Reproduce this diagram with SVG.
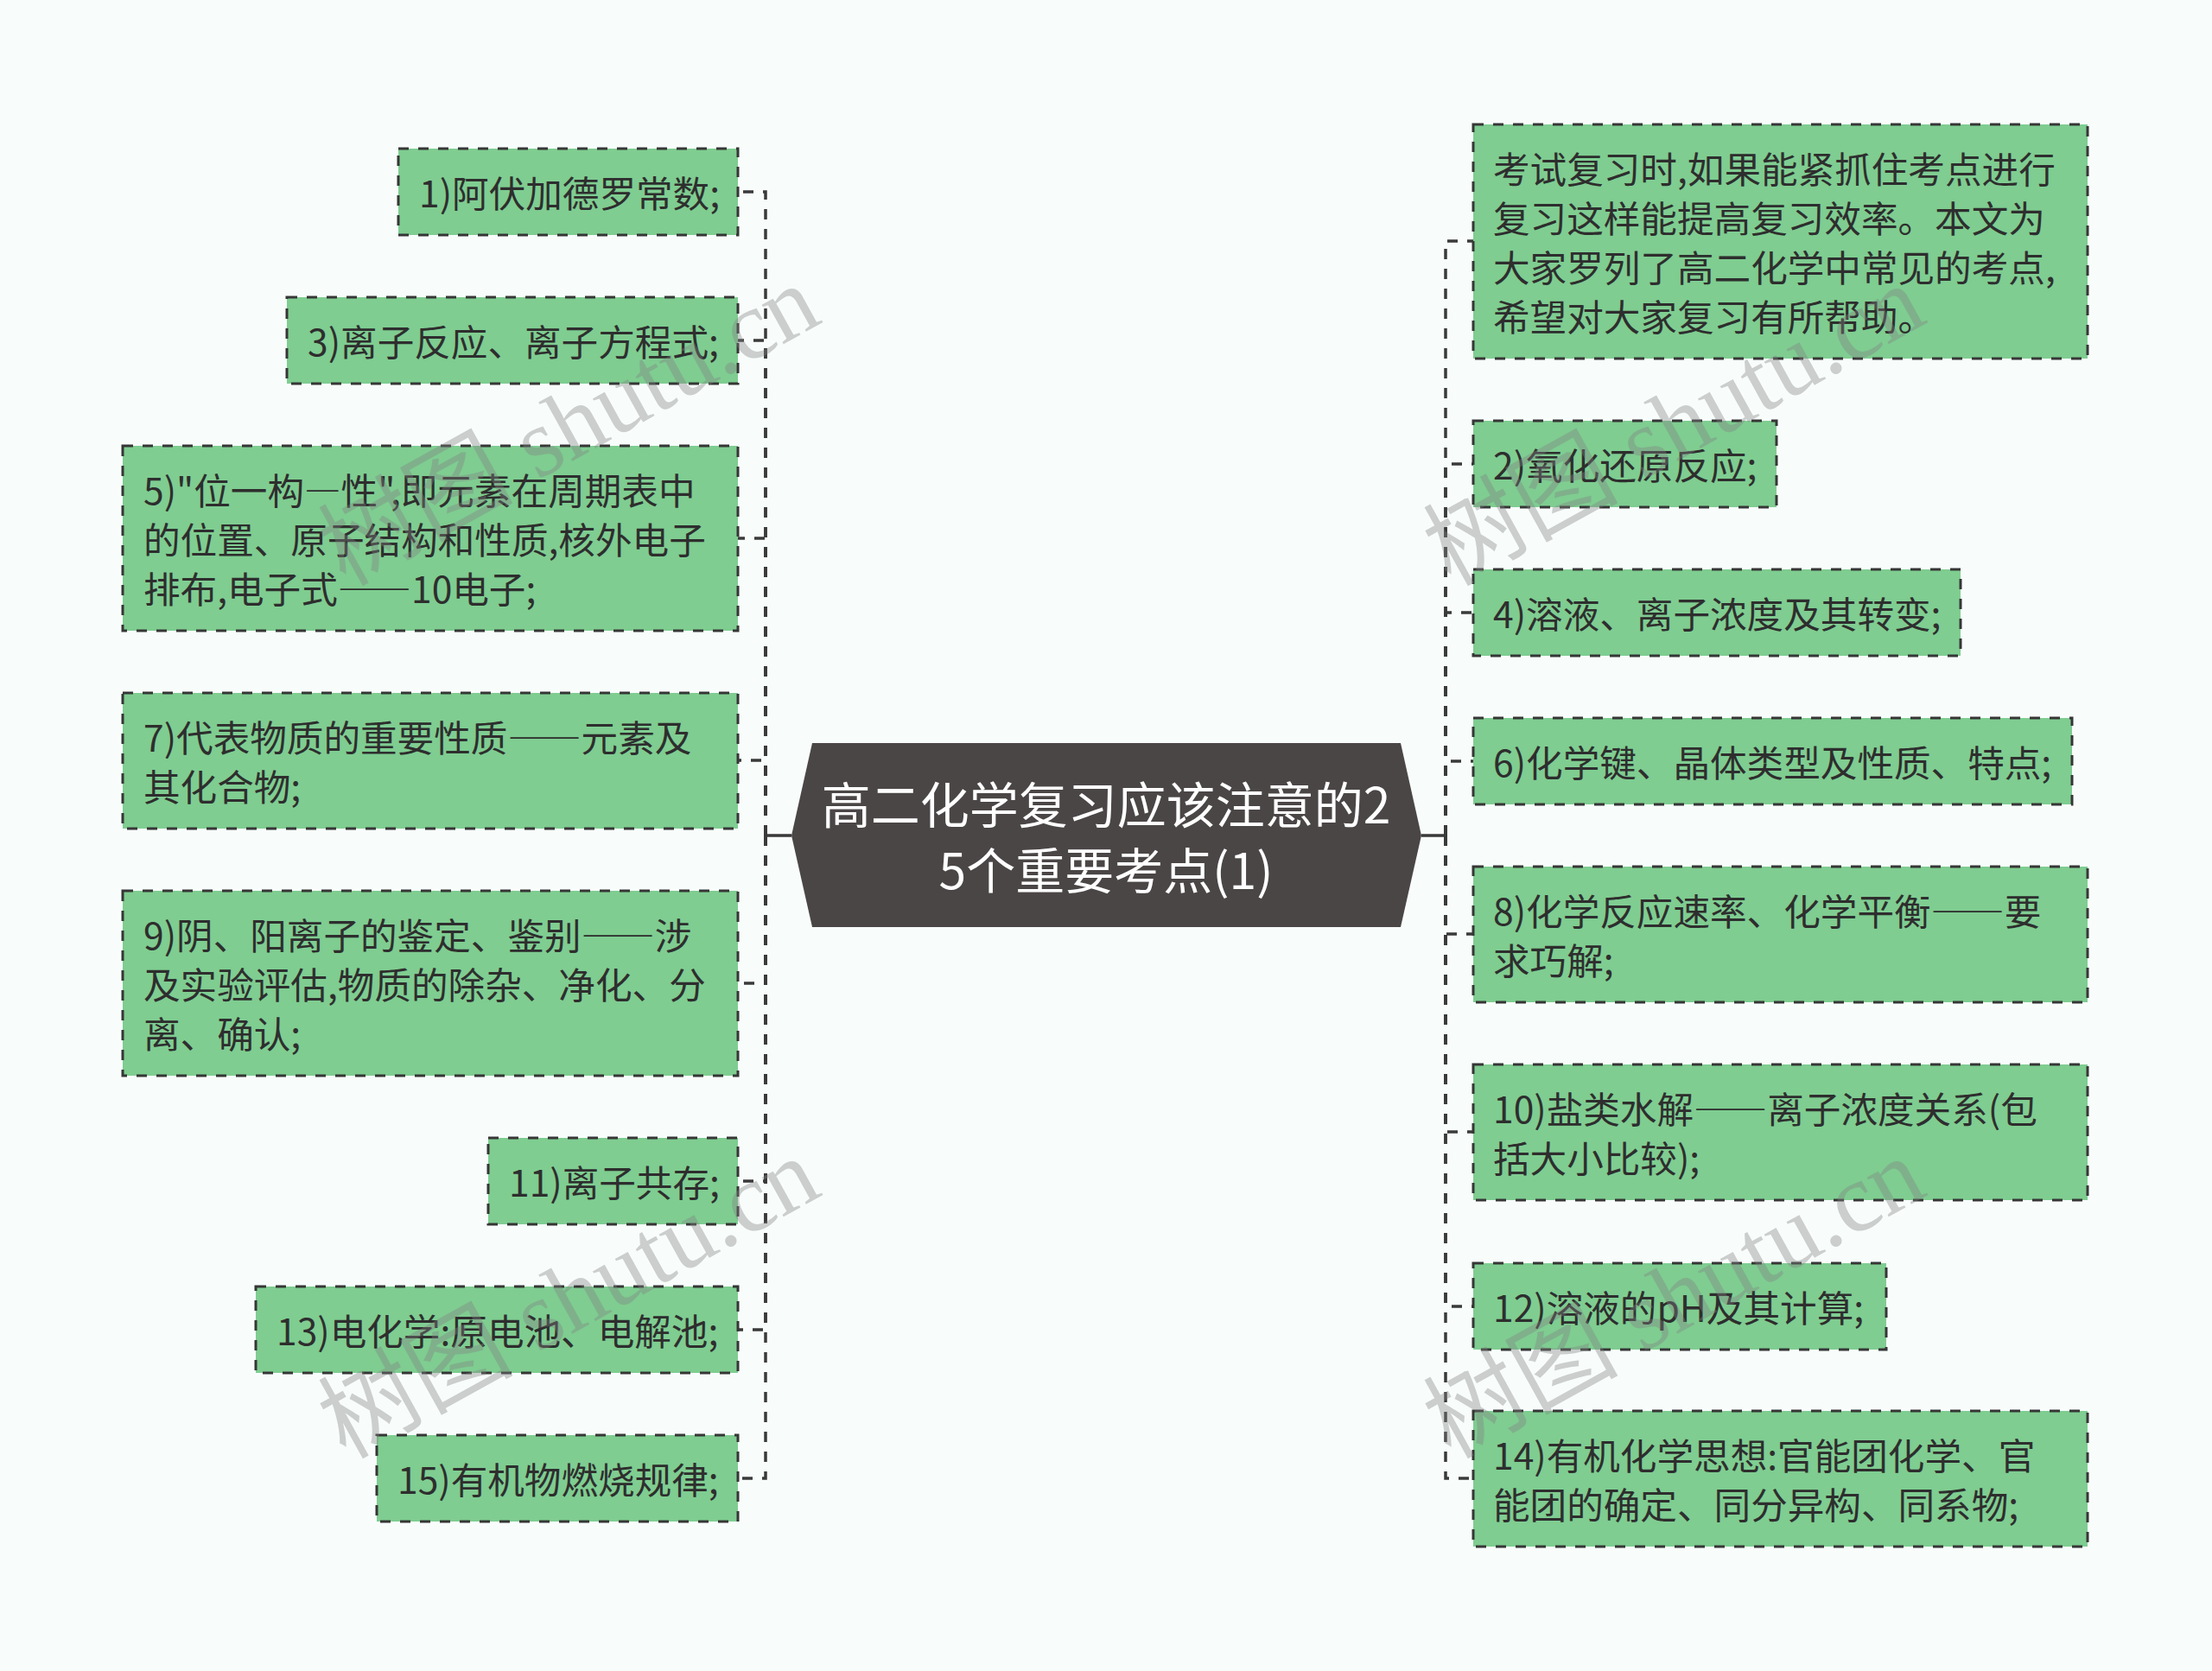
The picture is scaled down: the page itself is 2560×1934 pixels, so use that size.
<svg xmlns="http://www.w3.org/2000/svg" width="2560" height="1934" viewBox="0 0 2560 1934">
<style>
.bg{fill:#f8fdfc}
.box{fill:#7fcd91;stroke:#363636;stroke-width:3;stroke-dasharray:12 11}
.t{font-family:"Noto Sans CJK SC","Noto Sans",sans-serif;font-size:42.6px;fill:#2e2e2e}
.d{font-feature-settings:"fwid" 1}
.ct{font-family:"Noto Sans CJK SC","Noto Sans",sans-serif;font-size:57px;fill:#ffffff;text-anchor:middle}
.c{fill:none;stroke:#3a3a3a;stroke-width:3.5;stroke-dasharray:12 11}
.solid{fill:none;stroke:#3a3a3a;stroke-width:3.5}
.wm{font-family:"Liberation Serif","Noto Sans CJK SC",serif;font-size:113px;fill:#808080;fill-opacity:0.38;text-anchor:middle;dominant-baseline:central}
</style>
<rect class="bg" x="0" y="0" width="2560" height="1934"/>
<g id="connectors">
<path class="solid" d="M916 967H886M1645 967H1673"/>
<path class="c" d="M886 967V222H854"/>
<path class="c" d="M886 967V394H854"/>
<path class="c" d="M886 967V623H854"/>
<path class="c" d="M886 967V880H854"/>
<path class="c" d="M886 967V1138H854"/>
<path class="c" d="M886 967V1367H854"/>
<path class="c" d="M886 967V1539H854"/>
<path class="c" d="M886 967V1711H854"/>
<path class="c" d="M1673 967V279H1705"/>
<path class="c" d="M1673 967V537H1705"/>
<path class="c" d="M1673 967V709H1705"/>
<path class="c" d="M1673 967V881H1705"/>
<path class="c" d="M1673 967V1081H1705"/>
<path class="c" d="M1673 967V1310H1705"/>
<path class="c" d="M1673 967V1512H1705"/>
<path class="c" d="M1673 967V1711H1705"/>
</g>
<g id="center">
<polygon points="940,860 1621,860 1645,967 1621,1073 940,1073 916,967" fill="#4b4646"/>
<text class="ct" x="1280" y="953">高二化学复习应该注意的2</text>
<text class="ct" x="1280" y="1029">5个重要考点(1)</text>
</g>
<g id="n1"><rect class="box" x="461" y="172" width="393" height="100"/><text class="t" x="485" y="240">1)阿伏加德罗常数;</text></g>
<g id="n3"><rect class="box" x="332" y="344" width="522" height="100"/><text class="t" x="356" y="412">3)离子反应、离子方程式;</text></g>
<g id="n5"><rect class="box" x="142" y="516" width="712" height="214"/><text class="t" x="166" y="584">5)"位一构<tspan class="d">—</tspan>性",即元素在周期表中</text><text class="t" x="166" y="641">的位置、原子结构和性质,核外电子</text><text class="t" x="166" y="698">排布,电子式<tspan class="d">——</tspan>10电子;</text></g>
<g id="n7"><rect class="box" x="142" y="802" width="712" height="157"/><text class="t" x="166" y="870">7)代表物质的重要性质<tspan class="d">——</tspan>元素及</text><text class="t" x="166" y="927">其化合物;</text></g>
<g id="n9"><rect class="box" x="142" y="1031" width="712" height="214"/><text class="t" x="166" y="1099">9)阴、阳离子的鉴定、鉴别<tspan class="d">——</tspan>涉</text><text class="t" x="166" y="1156">及实验评估,物质的除杂、净化、分</text><text class="t" x="166" y="1213">离、确认;</text></g>
<g id="n11"><rect class="box" x="565" y="1317" width="289" height="100"/><text class="t" x="589" y="1385">11)离子共存;</text></g>
<g id="n13"><rect class="box" x="296" y="1489" width="558" height="100"/><text class="t" x="320" y="1557">13)电化学:原电池、电解池;</text></g>
<g id="n15"><rect class="box" x="436" y="1661" width="418" height="100"/><text class="t" x="460" y="1729">15)有机物燃烧规律;</text></g>
<g id="intro"><rect class="box" x="1705" y="144" width="711" height="271"/><text class="t" x="1728" y="212">考试复习时,如果能紧抓住考点进行</text><text class="t" x="1728" y="269">复习这样能提高复习效率。本文为</text><text class="t" x="1728" y="326">大家罗列了高二化学中常见的考点,</text><text class="t" x="1728" y="383">希望对大家复习有所帮助。</text></g>
<g id="n2"><rect class="box" x="1705" y="487" width="351" height="100"/><text class="t" x="1728" y="555">2)氧化还原反应;</text></g>
<g id="n4"><rect class="box" x="1705" y="659" width="564" height="100"/><text class="t" x="1728" y="727">4)溶液、离子浓度及其转变;</text></g>
<g id="n6"><rect class="box" x="1705" y="831" width="693" height="100"/><text class="t" x="1728" y="899">6)化学键、晶体类型及性质、特点;</text></g>
<g id="n8"><rect class="box" x="1705" y="1003" width="711" height="157"/><text class="t" x="1728" y="1071">8)化学反应速率、化学平衡<tspan class="d">——</tspan>要</text><text class="t" x="1728" y="1128">求巧解;</text></g>
<g id="n10"><rect class="box" x="1705" y="1232" width="711" height="157"/><text class="t" x="1728" y="1300">10)盐类水解<tspan class="d">——</tspan>离子浓度关系(包</text><text class="t" x="1728" y="1357">括大小比较);</text></g>
<g id="n12"><rect class="box" x="1705" y="1462" width="478" height="100"/><text class="t" x="1728" y="1530">12)溶液的pH及其计算;</text></g>
<g id="n14"><rect class="box" x="1705" y="1633" width="711" height="157"/><text class="t" x="1728" y="1701">14)有机化学思想:官能团化学、官</text><text class="t" x="1728" y="1758">能团的确定、同分异构、同系物;</text></g>
<g id="watermark">
<text class="wm" transform="translate(658,492) rotate(-29)">树图 shutu.cn</text>
<text class="wm" transform="translate(1937,492) rotate(-29)">树图 shutu.cn</text>
<text class="wm" transform="translate(658,1502) rotate(-29)">树图 shutu.cn</text>
<text class="wm" transform="translate(1937,1502) rotate(-29)">树图 shutu.cn</text>
</g>
</svg>
